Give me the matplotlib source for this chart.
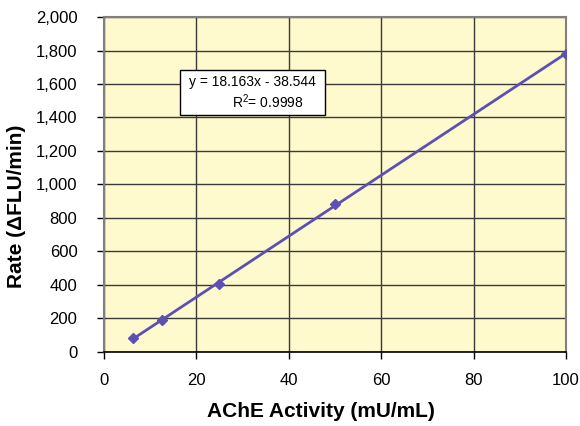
import numpy as np
import matplotlib
matplotlib.use('Agg')
import matplotlib.pyplot as plt
from matplotlib.patches import Rectangle
from matplotlib.ticker import FuncFormatter

# AChE standard curve
activity = [6.25, 12.5, 25, 50, 100]
rate = [80, 190, 405, 885, 1780]
x_ticks = [0, 20, 40, 60, 80, 100]
y_ticks = [0, 200, 400, 600, 800, 1000, 1200, 1400, 1600, 1800, 2000]

plt.rcParams['font.family'] = ['Liberation Sans', 'DejaVu Sans']
plt.rcParams['mathtext.fontset'] = 'custom'
plt.rcParams['mathtext.rm'] = 'Liberation Sans'
plt.rcParams['mathtext.it'] = 'Liberation Sans'

fig = plt.figure(figsize=(5.8, 4.26), dpi=100)
ax = fig.add_axes([0.179, 0.174, 0.797, 0.786])
ax.set_facecolor('#FFFACD')

# linear fit for the trendline
slope, intercept = np.polyfit(activity, rate, 1)
fit_x = np.array([min(activity), max(activity)])
ax.plot(fit_x, slope * fit_x + intercept, color='#5E4FB5', lw=2, zorder=3)
ax.plot(activity, rate, 'D', color='#5E4FB5', ms=5, zorder=4)

ax.set_xlim(0, 100)
ax.set_ylim(0, 2000)
ax.set_xticks(x_ticks)
ax.set_yticks(y_ticks)
ax.yaxis.set_major_formatter(FuncFormatter(lambda v, p: f'{int(v):,}'))
ax.grid(True, color='#3a3a3a', lw=1)
ax.set_axisbelow(True)

for side in ['left', 'top', 'right']:
    ax.spines[side].set_color('#808080')
    ax.spines[side].set_linewidth(1.5)
ax.spines['bottom'].set_color('black')
ax.spines['bottom'].set_linewidth(1.2)
ax.tick_params(axis='both', labelsize=12, length=5, color='black', width=1)
ax.tick_params(axis='x', pad=10)
ax.tick_params(axis='y', pad=14)

ax.set_xlabel('AChE Activity (mU/mL)', fontsize=15, fontweight='bold', va='center')
ax.set_ylabel('Rate (\u0394FLU/min)', fontsize=15, fontweight='bold', va='center')
ax.xaxis.set_label_coords(0.47, -0.179)
ax.yaxis.set_label_coords(-0.188, 0.436)

# trendline equation box
ax.add_patch(Rectangle((0.1645, 0.7075), 0.314, 0.134, transform=ax.transAxes,
                       fc='white', ec='black', lw=1, zorder=5))
ax.text(0.184, 0.806, 'y = 18.163x - 38.544', transform=ax.transAxes,
        ha='left', va='center', fontsize=10, zorder=6)
ax.text(0.277, 0.746, 'R$^2$= 0.9998', transform=ax.transAxes,
        ha='left', va='center', fontsize=10, zorder=6)

fig.savefig('out.png', dpi=100)
